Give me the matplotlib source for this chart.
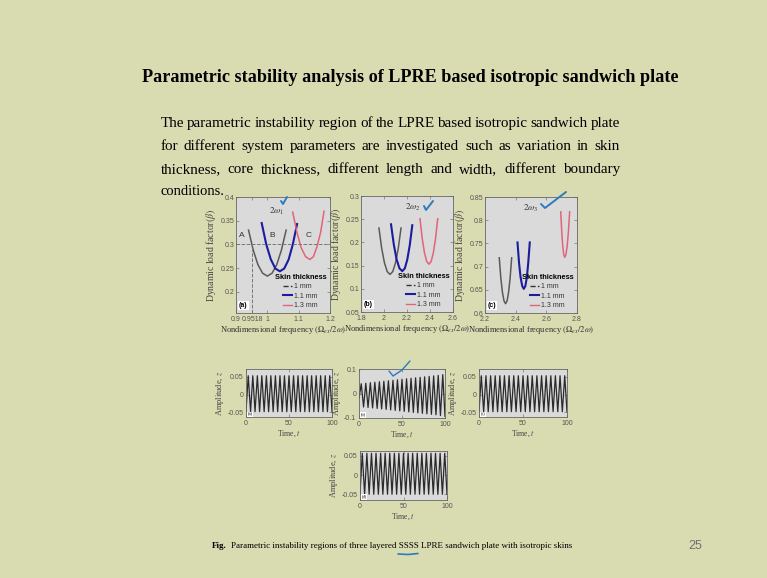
import matplotlib
matplotlib.use("Agg")
import matplotlib.pyplot as plt
from matplotlib.lines import Line2D

# ---- data ----
# panel (a): instability regions, skin thickness 1 / 1.1 / 1.3 mm
a_x_1 = [0.940, 0.955, 0.970, 0.985, 1.000, 1.015, 1.030, 1.045, 1.060]
a_y_1 = [0.330, 0.288, 0.257, 0.239, 0.233, 0.239, 0.257, 0.288, 0.330]
a_x_11 = [0.982, 0.9965, 1.011, 1.0255, 1.040, 1.054, 1.068, 1.081, 1.095]
a_y_11 = [0.345, 0.300, 0.2685, 0.249, 0.243, 0.249, 0.268, 0.299, 0.343]
a_x_13 = [1.081, 1.095, 1.108, 1.122, 1.136, 1.147, 1.158, 1.170, 1.181]
a_y_13 = [0.368, 0.324, 0.293, 0.274, 0.268, 0.274, 0.294, 0.325, 0.370]

# panel (b)
b_x_1 = [1.956, 1.980, 2.004, 2.028, 2.052, 2.076, 2.100, 2.124, 2.148]
b_y_1 = [0.231, 0.187, 0.156, 0.137, 0.131, 0.137, 0.156, 0.187, 0.231]
b_x_11 = [2.061, 2.0855, 2.110, 2.1345, 2.159, 2.181, 2.2025, 2.224, 2.246]
b_y_11 = [0.239, 0.195, 0.163, 0.144, 0.138, 0.144, 0.163, 0.194, 0.237]
b_x_13 = [2.313, 2.3325, 2.352, 2.3715, 2.391, 2.410, 2.429, 2.448, 2.467]
b_y_13 = [0.251, 0.208, 0.1775, 0.159, 0.153, 0.159, 0.1775, 0.208, 0.251]

# panel (c)
c_x_1 = [2.293, 2.303, 2.3135, 2.324, 2.334, 2.344, 2.354, 2.364, 2.374]
c_y_1 = [0.719, 0.676, 0.645, 0.626, 0.620, 0.626, 0.645, 0.676, 0.719]
c_x_11 = [2.412, 2.422, 2.432, 2.443, 2.453, 2.463, 2.473, 2.482, 2.492]
c_y_11 = [0.752, 0.708, 0.677, 0.658, 0.652, 0.658, 0.677, 0.708, 0.752]
c_x_13 = [2.694, 2.7005, 2.707, 2.7135, 2.720, 2.728, 2.736, 2.744, 2.752]
c_y_13 = [0.818, 0.775, 0.7445, 0.726, 0.720, 0.726, 0.7445, 0.775, 0.818]

a_xticks = [0.9, 0.9518, 1, 1.1, 1.2]
a_xlabels = ["0.9", "0.9518", "1", "1.1", "1.2"]
a_yticks = [0.2, 0.25, 0.3, 0.35, 0.4]
a_ylabels = ["0.2", "0.25", "0.3", "0.35", "0.4"]
b_xticks = [1.8, 2.0, 2.2, 2.4, 2.6]
b_xlabels = ["1.8", "2", "2.2", "2.4", "2.6"]
b_yticks = [0.05, 0.1, 0.15, 0.2, 0.25, 0.3]
b_ylabels = ["0.05", "0.1", "0.15", "0.2", "0.25", "0.3"]
c_xticks = [2.2, 2.4, 2.6, 2.8]
c_xlabels = ["2.2", "2.4", "2.6", "2.8"]
c_yticks = [0.6, 0.65, 0.7, 0.75, 0.8, 0.85]
c_ylabels = ["0.6", "0.65", "0.7", "0.75", "0.8", "0.85"]

# time responses: times and values of the successive peaks / troughs
t_ext = [0, 2.6, 5.3, 7.9, 10.5, 13.2, 15.8, 18.4, 21.1, 23.7, 26.3, 28.9, 31.6,
         34.2, 36.8, 39.5, 42.1, 44.7, 47.4, 50.0, 52.6, 55.3, 57.9, 60.5, 63.2,
         65.8, 68.4, 71.1, 73.7, 76.3, 78.9, 81.6, 84.2, 86.8, 89.5, 92.1, 94.7,
         97.4, 100]
z_stable = [-0.048, 0.053, -0.048, 0.053, -0.048, 0.053, -0.048, 0.053, -0.048,
            0.053, -0.048, 0.053, -0.048, 0.053, -0.048, 0.053, -0.048, 0.053,
            -0.048, 0.053, -0.048, 0.053, -0.048, 0.053, -0.048, 0.053, -0.048,
            0.053, -0.048, 0.053, -0.048, 0.053, -0.048, 0.053, -0.048, 0.053,
            -0.048, 0.053, -0.048]
z_grow = [-0.02, 0.040, -0.055, 0.042, -0.057, 0.044, -0.059, 0.046, -0.061,
          0.048, -0.063, 0.050, -0.065, 0.052, -0.067, 0.054, -0.069, 0.056,
          -0.071, 0.058, -0.073, 0.060, -0.075, 0.062, -0.077, 0.064, -0.079,
          0.066, -0.081, 0.068, -0.083, 0.070, -0.085, 0.072, -0.087, 0.074,
          -0.090, 0.077, -0.093]
z_last = [-0.050, 0.057, -0.050, 0.057, -0.050, 0.057, -0.050, 0.057, -0.050,
          0.057, -0.050, 0.057, -0.050, 0.057, -0.050, 0.057, -0.050, 0.057,
          -0.050, 0.057, -0.050, 0.057, -0.050, 0.057, -0.050, 0.057, -0.050,
          0.057, -0.050, 0.057, -0.050, 0.057, -0.050, 0.057, -0.050, 0.057,
          -0.050, 0.057, -0.050]

legend_labels = ["1 mm", "1.1 mm", "1.3 mm"]

# ---- style ----
W, H = 767, 578
BG = "#d9dbb1"
AXBG = "#dadada"
SERIF = "Liberation Serif"
SANS = "Liberation Sans"
GRAY = "#5a5a5a"
BLUE = "#1c1c9c"
RED = "#e0647a"
PEN = "#2b7bc0"

plt.rcParams["mathtext.fontset"] = "stix"
plt.rcParams["axes.unicode_minus"] = False

fig = plt.figure(figsize=(W / 100, H / 100), dpi=100)
fig.patch.set_facecolor(BG)


def box(x0, y0, x1, y1):
    return [x0 / W, 1 - y1 / H, (x1 - x0) / W, (y1 - y0) / H]


def style(ax, pad=2):
    ax.set_facecolor(AXBG)
    for s in ax.spines.values():
        s.set_color("#666666")
        s.set_linewidth(0.6)
    ax.tick_params(direction="in", top=True, right=True, length=2, width=0.5,
                   labelsize=5, labelcolor="#555555", color="#777777", pad=2)
    ax.tick_params(axis="y", pad=pad)
    for lab in ax.get_xticklabels() + ax.get_yticklabels():
        lab.set_family(SANS)


def top_panel(rect, curves, xlim, ylim, xt, xl, yt, yl, tag, wtxt, wpos):
    ax = fig.add_axes(box(*rect))
    for (x, y), col in zip(curves, [GRAY, BLUE, RED]):
        ax.plot(x, y, color=col, lw=1.1 if col != BLUE else 1.5)
    ax.set_xlim(xlim)
    ax.set_ylim(ylim)
    ax.set_xticks(xt, xl)
    ax.set_yticks(yt, yl)
    style(ax, pad=1.3)
    ax.set_ylabel(r"Dynamic load factor$(\beta)$", family=SERIF, fontsize=7,
                  color="#444444", labelpad=2)
    ax.set_xlabel(r"Nondimensional frequency $(\Omega_{ex}/2\omega)$", family=SERIF,
                  fontsize=6.1, color="#333333", labelpad=1)
    handles = [Line2D([], [], color="#333333", ls="--", lw=1),
               Line2D([], [], color=BLUE, lw=1.5),
               Line2D([], [], color=RED, lw=1)]
    leg = ax.legend(handles, legend_labels, title="Skin thickness", loc="lower right",
                    frameon=False, prop={"family": SANS, "size": 5},
                    handlelength=1.3, labelspacing=0.35, handletextpad=0.3,
                    borderaxespad=0.15)
    leg.get_title().set_fontproperties({"family": SANS, "size": 5.3, "weight": "bold"})
    for t in leg.get_texts():
        t.set_color("#333333")
    ax.text(0.03, 0.05, tag, transform=ax.transAxes, family=SANS, fontsize=5,
            fontweight="bold", bbox=dict(fc="white", ec="none", pad=0.8))
    ax.text(wpos[0], wpos[1], wtxt, fontsize=6.5, color="#333333")
    return ax


ax_a = top_panel((236, 197, 330, 313), [(a_x_1, a_y_1), (a_x_11, a_y_11), (a_x_13, a_y_13)],
                 (0.9, 1.2), (0.155, 0.4), a_xticks, a_xlabels, a_yticks, a_ylabels,
                 "(a)", r"$2\omega_1$", (1.005, 0.365))
ax_a.axhline(0.3, color="#777777", ls="--", lw=0.7)
ax_a.plot([0.9518, 0.9518], [0.155, 0.3], color="#777777", ls="--", lw=0.7)
for lab, xx in zip(["A", "B", "C"], [0.919, 1.017, 1.133]):
    ax_a.text(xx, 0.316, lab, family=SANS, fontsize=6, color="#333333", ha="center")

top_panel((361, 196, 453, 312), [(b_x_1, b_y_1), (b_x_11, b_y_11), (b_x_13, b_y_13)],
          (1.8, 2.6), (0.05, 0.3), b_xticks, b_xlabels, b_yticks, b_ylabels,
          "(b)", r"$2\omega_2$", (2.18, 0.27))
top_panel((485, 197, 577, 313), [(c_x_1, c_y_1), (c_x_11, c_y_11), (c_x_13, c_y_13)],
          (2.2, 2.8), (0.6, 0.85), c_xticks, c_xlabels, c_yticks, c_ylabels,
          "(c)", r"$2\omega_3$", (2.45, 0.82))


def time_panel(rect, z, ylim, yt, yl, tag):
    ax = fig.add_axes(box(*rect))
    ax.plot(t_ext, z, color="#2a2a2a", lw=0.9)
    ax.set_xlim(0, 100)
    ax.set_ylim(ylim)
    ax.set_xticks([0, 50, 100], ["0", "50", "100"])
    ax.set_yticks(yt, yl)
    style(ax)
    ax.set_xlabel(r"Time, $t$", family=SERIF, fontsize=5.5, color="#444444", labelpad=1)
    ax.set_ylabel(r"Amplitude, $z$", family=SERIF, fontsize=6, color="#444444", labelpad=1)
    ax.text(0.02, 0.04, tag, transform=ax.transAxes, family=SANS, fontsize=3,
            bbox=dict(fc="white", ec="none", pad=0.4))
    return ax


yt5 = [-0.05, 0, 0.05]
yl5 = ["-0.05", "0", "0.05"]
time_panel((246, 369, 332, 417), z_stable, (-0.063, 0.072), yt5, yl5, "(a)")
time_panel((359, 369, 445, 418), z_grow, (-0.1, 0.1), [-0.1, 0, 0.1], ["-0.1", "0", "0.1"], "(b)")
time_panel((479, 369, 567, 417), z_stable, (-0.063, 0.072), yt5, yl5, "(c)")
time_panel((360, 451, 447, 500), z_last, (-0.065, 0.063), yt5, yl5, "(d)")

# ---- slide text ----
fig.text(142 / W, 1 - 81.5 / H,
         "Parametric stability analysis of LPRE based isotropic sandwich plate",
         family=SERIF, fontsize=13.1, fontweight="bold", va="baseline")

para = ["The parametric instability region of the LPRE based isotropic sandwich plate",
        "for different system parameters are investigated such as variation in skin",
        "thickness, core thickness, different length and width, different boundary",
        "conditions."]
renderer = fig.canvas.get_renderer()
for i, line in enumerate(para):
    yb = 1 - (127.3 + 22.7 * i) / H
    words = line.split()
    size = 10.9 if i < len(para) - 1 else 10.5
    texts = [fig.text(0, yb, w, family=SERIF, fontsize=size, va="baseline") for w in words]
    widths = [t.get_window_extent(renderer).width for t in texts]
    if i < len(para) - 1:
        gap = (620 - 160.5 - sum(widths)) / (len(words) - 1)
    else:
        gap = 0
    x = 160.5
    for t, w in zip(texts, widths):
        t.set_x(x / W)
        x += w + gap

fig_t = fig.text(212 / W, 1 - 548 / H, "Fig.", family=SERIF, fontsize=6.45,
                 fontweight="bold", va="baseline")
fw = fig_t.get_window_extent(renderer).width
fig.text((212 + fw + 4) / W, 1 - 548 / H,
         "Parametric instability regions of three layered SSSS LPRE sandwich plate with isotropic skins",
         family=SERIF, fontsize=6.45, va="baseline")
fig.text(695 / W, 1 - 549 / H, "25", family=SANS, fontsize=9, color="#707070",
         ha="center", va="baseline")

# ---- pen marks ----
def pen(xs, ys, lw=1.4):
    fig.add_artist(Line2D([x / W for x in xs], [1 - y / H for y in ys], color=PEN,
                          lw=lw, solid_capstyle="round", transform=fig.transFigure))


pen([281, 283, 287], [201, 204, 197])
pen([424, 426, 433], [206, 210, 201])
pen([541, 545, 566], [204, 208, 192])
pen([389, 393, 402, 410], [371, 376, 370, 361], lw=1.0)
pen([398, 408, 418], [554, 554.5, 553.5], lw=1.2)

fig.savefig("out.png", dpi=100, facecolor=BG)
